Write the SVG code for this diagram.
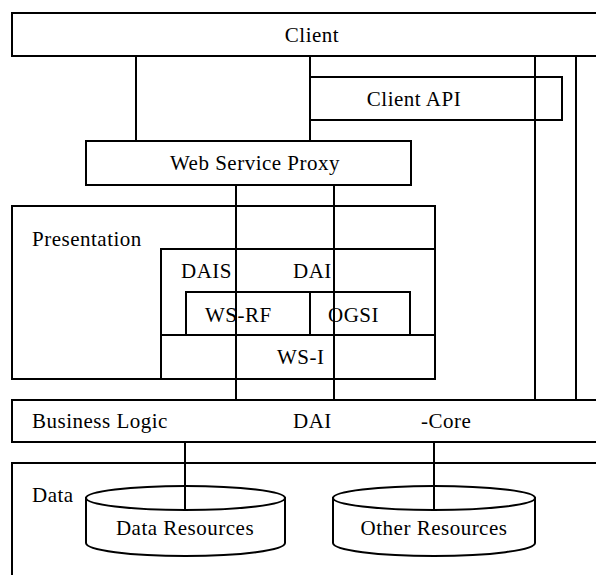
<svg xmlns="http://www.w3.org/2000/svg" width="596" height="575" viewBox="0 0 596 575">
  <style>
    .box { fill: #fff; stroke: #000; stroke-width: 2; }
    .lbl { font-size: 21px; letter-spacing: 0.5px; fill: #000; }
    .mid { text-anchor: middle; }
    .wire { stroke: #000; stroke-width: 2; fill: none; }
  </style>
  <rect width="596" height="575" fill="#fff"/>

  <g font-family="Liberation Serif, Times New Roman, serif">
  <!-- top tier -->
  <g id="client">
    <rect class="box" x="12" y="13" width="600" height="43"/>
    <text class="lbl mid" x="312" y="42">Client</text>
  </g>
  <g id="client-api">
    <rect class="box" x="310" y="77" width="252" height="43"/>
    <text class="lbl mid" x="414" y="106">Client API</text>
  </g>
  <g id="web-service-proxy">
    <rect class="box" x="86" y="141" width="325" height="44"/>
    <text class="lbl mid" x="255" y="170">Web Service Proxy</text>
  </g>

  <!-- presentation tier -->
  <g id="presentation">
    <rect class="box" x="12" y="206" width="423" height="173"/>
    <text class="lbl" x="32" y="246">Presentation</text>
  </g>
  <g id="dais-dai">
    <rect class="box" x="161" y="249" width="274" height="130"/>
    <text class="lbl" x="181" y="278">DAIS</text>
    <text class="lbl" x="293" y="278">DAI</text>
  </g>
  <g id="ws-rf">
    <rect class="box" x="186" y="292" width="124" height="43"/>
    <text class="lbl" x="205" y="322">WS-RF</text>
  </g>
  <g id="ogsi">
    <rect class="box" x="310" y="292" width="100" height="43"/>
    <text class="lbl" x="328" y="322">OGSI</text>
  </g>
  <g id="ws-i">
    <rect class="box" x="161" y="335" width="274" height="44"/>
    <text class="lbl" x="277" y="364">WS-I</text>
  </g>

  <!-- business logic tier -->
  <g id="business-logic">
    <rect class="box" x="12" y="400" width="600" height="42"/>
    <text class="lbl" x="32" y="428">Business Logic</text>
    <text class="lbl" x="293" y="428">DAI</text>
    <text class="lbl" x="421" y="428">-Core</text>
  </g>

  <!-- data tier -->
  <g id="data">
    <rect class="box" x="12" y="463" width="600" height="130"/>
    <text class="lbl" x="32" y="502">Data</text>
  </g>
  <g id="data-resources">
    <path class="box" d="M86,498 L86,543 A99.5,13 0 0 0 285,543 L285,498 Z"/>
    <ellipse class="box" cx="185.5" cy="498" rx="99.5" ry="12"/>
    <text class="lbl mid" x="185" y="535">Data Resources</text>
  </g>
  <g id="other-resources">
    <path class="box" d="M333,498 L333,543 A101,13 0 0 0 535,543 L535,498 Z"/>
    <ellipse class="box" cx="434" cy="498" rx="101" ry="12"/>
    <text class="lbl mid" x="434" y="535">Other Resources</text>
  </g>
  </g>

  <!-- connectors -->
  <g id="connectors">
    <line class="wire" x1="136" y1="56" x2="136" y2="141"/>
    <line class="wire" x1="310" y1="56" x2="310" y2="141"/>
    <line class="wire" x1="535" y1="56" x2="535" y2="400"/>
    <line class="wire" x1="576" y1="56" x2="576" y2="400"/>
    <line class="wire" x1="236" y1="185" x2="236" y2="400"/>
    <line class="wire" x1="334" y1="185" x2="334" y2="400"/>
    <line class="wire" x1="185" y1="442" x2="185" y2="510"/>
    <line class="wire" x1="434" y1="442" x2="434" y2="510"/>
  </g>
</svg>
